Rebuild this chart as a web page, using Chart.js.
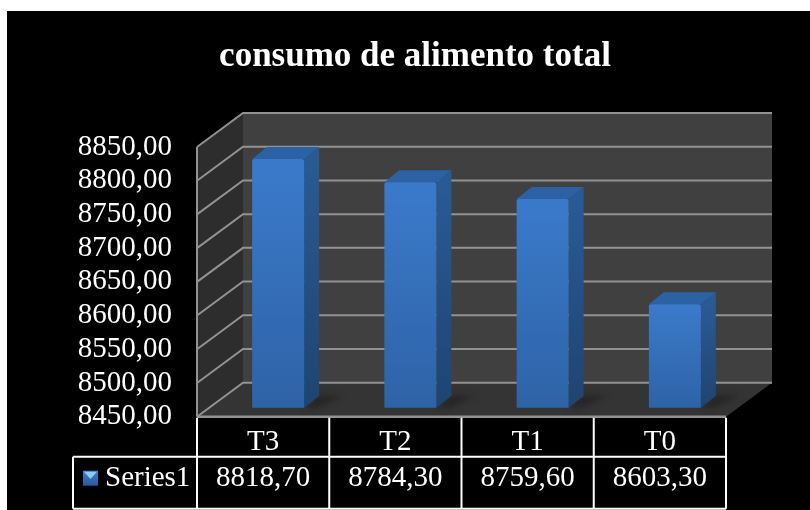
<!DOCTYPE html>
<html>
<head>
<meta charset="utf-8">
<title>consumo de alimento total</title>
<script src="https://cdn.jsdelivr.net/npm/chart.js@4"></script>
<style>
    html, body { margin: 0; background: #fff; }
    #wrap { position: absolute; left: 7px; top: 11px; width: 803px; height: 499px; background: #000; }
</style>
</head>
<body>
<div id="wrap"><canvas id="myChart"></canvas></div>
<script>
const categories = ['T3', 'T2', 'T1', 'T0'];
const seriesName = 'Series1';
const seriesValues = [8818.70, 8784.30, 8759.60, 8603.30];
const yMin = 8450;
const yMax = 8850;
const yStep = 50;

const serif = '"Liberation Serif", "Times New Roman", serif';
const fmt = v => v.toFixed(2).replace('.', ',');

// profundidad del "3D"
const wallDx = 46, wallDy = -34;
const barDx = 15, barDy = -9;
const faceDx = 15, faceDy = -12;

function poly(g, pts, fill) {
    g.beginPath();
    pts.forEach((p, i) => i ? g.lineTo(p[0], p[1]) : g.moveTo(p[0], p[1]));
    g.closePath();
    g.fillStyle = fill;
    g.fill();
}

const fake3d = {
    id: 'fake3d',
    beforeDatasetsDraw(chart) {
        const g = chart.ctx;
        const { left, right, top, bottom } = chart.chartArea;
        const y = chart.scales.y;

        g.save();
        // paredes y piso
        poly(g, [[left + wallDx, top + wallDy], [right + wallDx, top + wallDy], [right + wallDx, bottom + wallDy], [left + wallDx, bottom + wallDy]], '#404040');
        poly(g, [[left, top], [left + wallDx, top + wallDy], [left + wallDx, bottom + wallDy], [left, bottom]], '#2d2d2d');
        poly(g, [[left, bottom], [left + wallDx, bottom + wallDy], [right + wallDx, bottom + wallDy], [right, bottom]], '#343434');

        // lineas de grilla
        g.strokeStyle = '#929292';
        g.lineWidth = 2;
        for (let v = yMin; v <= yMax; v += yStep) {
            const py = y.getPixelForValue(v);
            g.beginPath();
            g.moveTo(left, py);
            g.lineTo(left + wallDx, py + wallDy);
            g.lineTo(right + wallDx, py + wallDy);
            g.stroke();
        }
        g.beginPath();
        g.moveTo(left, top);
        g.lineTo(left, bottom);
        g.stroke();

        // sombras y caras de las barras
        const bars = chart.getDatasetMeta(0).data;
        bars.forEach(b => {
            const x1 = b.x + b.width / 2 + barDx;
            const x0 = b.x - b.width / 2 + barDx;
            const yb = bottom + barDy; // b.base cae fuera del area, el eje no parte de cero
            const yt = b.y + barDy;

            g.save();
            g.filter = 'blur(3px)';
            poly(g, [[x0 - 6, yb], [x1, yb], [x1 + faceDx, yb + faceDy], [x1 + faceDx + 24, yb + faceDy], [x1 + 12, yb]], '#242424');
            g.restore();

            const side = g.createLinearGradient(0, yt, 0, yb);
            side.addColorStop(0, '#2a5a94');
            side.addColorStop(1, '#1f4470');
            poly(g, [[x1, yt], [x1 + faceDx, yt + faceDy], [x1 + faceDx, yb + faceDy], [x1, yb]], side);
            poly(g, [[x0, yt], [x0 + faceDx, yt + faceDy], [x1 + faceDx, yt + faceDy], [x1, yt]], '#2b62a6');
        });
        g.restore();

        g.save();
        g.translate(barDx, barDy);
    },
    afterDatasetsDraw(chart) {
        chart.ctx.restore();
        const g = chart.ctx;
        const { left, right, bottom } = chart.chartArea;
        const rowMid = bottom + 40;
        const tableEnd = bottom + 92;
        const legendLeft = 66;
        const cellW = (right - left) / categories.length;

        g.save();
        g.strokeStyle = '#929292';
        g.lineWidth = 2.5;
        g.beginPath();
        g.moveTo(left, bottom);
        g.lineTo(right, bottom);
        g.stroke();

        // tabla de datos
        g.strokeStyle = '#fff';
        g.lineWidth = 2;
        g.beginPath();
        for (let i = 0; i <= categories.length; i++) {
            g.moveTo(left + i * cellW, bottom + 1);
            g.lineTo(left + i * cellW, tableEnd);
        }
        g.moveTo(legendLeft, rowMid);
        g.lineTo(right, rowMid);
        g.moveTo(legendLeft, rowMid);
        g.lineTo(legendLeft, tableEnd);
        g.moveTo(legendLeft, tableEnd);
        g.lineTo(right, tableEnd);
        g.stroke();

        // leyenda dentro de la tabla
        const sx = 76, sy = rowMid + 14, ss = 15;
        const sw = g.createLinearGradient(0, sy, 0, sy + ss);
        sw.addColorStop(0, '#3f7fcf');
        sw.addColorStop(1, '#2a5a96');
        g.fillStyle = sw;
        g.fillRect(sx, sy, ss, ss);
        poly(g, [[sx + 1, sy + 1], [sx + ss - 1, sy + 1], [sx + ss / 2, sy + ss * 0.55]], '#8ccbf5');
        g.fillStyle = '#fff';
        g.font = '29px ' + serif;
        g.textAlign = 'left';
        g.textBaseline = 'middle';
        g.fillText(seriesName, 98, rowMid + 22);
        g.restore();
    }
};

new Chart(document.getElementById('myChart'), {
    type: 'bar',
    data: {
        labels: categories.map((c, i) => [c, fmt(seriesValues[i])]),
        datasets: [{
            label: seriesName,
            data: seriesValues,
            barPercentage: 0.393,
            categoryPercentage: 1,
            borderRadius: 2,
            borderSkipped: false,
            backgroundColor(c) {
                const { chart } = c;
                if (!chart.chartArea || c.raw === undefined) return '#3673bd';
                const top = chart.scales.y.getPixelForValue(c.raw);
                const grad = chart.ctx.createLinearGradient(0, top, 0, chart.chartArea.bottom);
                grad.addColorStop(0, '#3b7acb');
                grad.addColorStop(1, '#2e63a6');
                return grad;
            }
        }]
    },
    options: {
        responsive: true,
        maintainAspectRatio: false,
        animation: false,
        layout: { padding: { left: 13, right: 0, top: 0, bottom: 0 } },
        plugins: {
            legend: { display: false },
            tooltip: { enabled: false },
            title: {
                display: true,
                text: 'consumo de alimento total',
                color: '#fff',
                font: { family: serif, size: 35, weight: 'bold', lineHeight: 1.2 },
                padding: { top: 25, bottom: 69 }
            }
        },
        scales: {
            x: {
                afterFit(s) { s.height = 93.3; },
                grid: { display: false, drawTicks: false },
                border: { display: false },
                ticks: {
                    color: '#fff',
                    font: { family: serif, size: 29, lineHeight: 1.24 },
                    padding: 8,
                    autoSkip: false,
                    maxRotation: 0
                }
            },
            y: {
                min: yMin,
                max: yMax,
                afterFit(s) { s.width = 177; },
                grid: { display: false, drawTicks: false },
                border: { display: false },
                ticks: {
                    stepSize: yStep,
                    autoSkip: false,
                    color: '#fff',
                    font: { family: serif, size: 29 },
                    padding: 25,
                    callback: v => fmt(v)
                }
            },
            // eje vacio: solo reserva el margen negro a la derecha
            margen: {
                type: 'linear',
                position: 'right',
                afterFit(s) { s.width = 84; },
                grid: { display: false, drawTicks: false },
                border: { display: false },
                ticks: { display: false }
            }
        }
    },
    plugins: [fake3d]
});
</script>
</body>
</html>
